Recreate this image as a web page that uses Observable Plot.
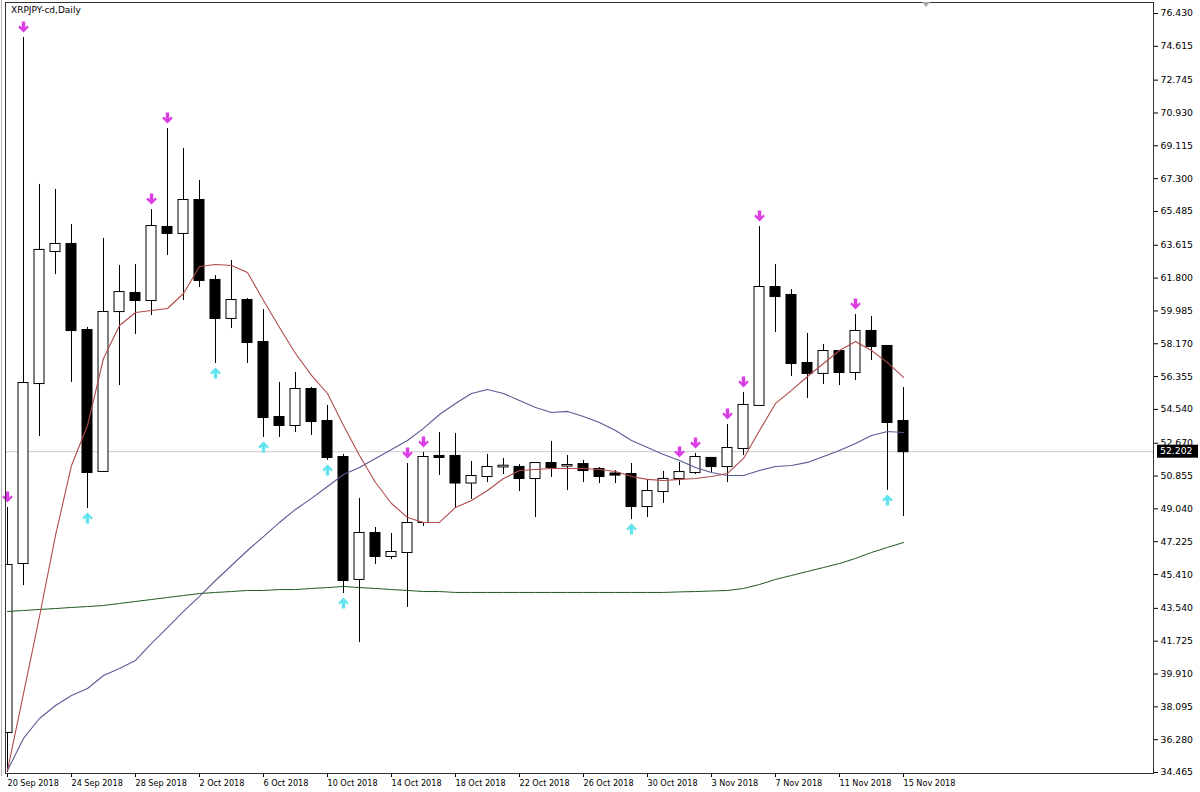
<!DOCTYPE html>
<html>
<head>
<meta charset="utf-8">
<script src="https://cdn.jsdelivr.net/npm/d3@7"></script>
<script src="https://cdn.jsdelivr.net/npm/@observablehq/plot@0.6"></script>
<style>
  html, body { margin: 0; padding: 0; background: #fff; width: 1200px; height: 792px; overflow: hidden; }
  #wrap { position: relative; width: 1200px; height: 792px; }
  #chart svg { position: absolute; left: 0; top: 0; }
  #title { position: absolute; left: 11px; top: 5px; font-family: "DejaVu Sans"; font-size: 9px; color: #000; white-space: nowrap; }
  #shift { position: absolute; left: 922px; top: 2px; width: 0; height: 0;
           border-left: 4px solid transparent; border-right: 4px solid transparent; border-top: 5px solid #a8a8a8; }
  #edge { position: absolute; left: 1px; top: 0; width: 1px; height: 776px; background: #b8b8b8; }
  g[aria-label="x-axis tick label"] text, g[aria-label="x-axis"] text {
    text-anchor: start; font-family: "DejaVu Sans Condensed", "DejaVu Sans"; font-size: 9px;
  }
</style>
</head>
<body>
<div id="wrap">
  <div id="chart"></div>
  <div id="edge"></div>
  <div id="title">XRPJPY-cd,Daily</div>
  <div id="shift"></div>
</div>
<script>
// ---- Data (daily candles, 20 Sep 2018 .. 15 Nov 2018) ----
const open = [36.68,46.02,55.97,63.27,63.66,58.90,51.11,59.95,60.95,60.56,64.60,64.27,66.09,61.67,59.57,60.56,58.24,54.09,53.65,55.64,53.87,51.88,45.14,47.68,46.41,46.63,48.29,51.94,51.94,50.47,50.83,51.36,51.33,50.72,51.55,51.41,51.49,51.22,50.97,50.94,49.17,50.00,50.72,51.05,51.83,51.38,52.38,54.76,61.28,60.84,57.08,56.53,57.74,56.58,58.85,58.02,53.87];
const high = [49.12,75.10,66.98,66.70,64.76,59.07,63.99,62.50,62.55,65.59,70.07,68.97,67.20,61.94,62.77,60.67,60.06,56.03,56.58,55.75,54.76,52.05,49.62,48.01,47.68,51.55,52.16,53.26,53.21,51.66,52.05,51.83,51.49,51.55,52.77,51.99,51.72,51.33,51.16,51.55,50.67,51.11,51.61,52.10,51.88,53.71,55.48,64.65,62.55,61.17,58.74,58.13,57.80,59.79,59.68,58.07,55.75];
const low = [34.47,44.80,53.04,62.00,56.03,49.06,51.05,55.86,58.68,59.73,63.05,60.56,61.28,57.08,59.01,57.08,52.99,52.99,53.26,53.10,51.72,44.36,41.65,45.97,46.24,43.59,48.07,50.89,49.06,49.56,50.50,50.94,50.00,48.56,50.78,50.06,50.50,50.44,50.44,48.45,48.56,49.34,50.33,50.94,51.05,50.50,51.99,54.76,58.79,56.36,55.14,55.92,55.86,56.14,57.24,50.06,48.62];
const close = [45.91,55.97,63.33,63.66,58.90,51.05,59.90,61.00,60.56,64.65,64.27,66.09,61.67,59.57,60.56,58.24,54.09,53.65,55.64,53.87,51.88,45.08,47.68,46.41,46.63,48.23,51.88,51.88,50.47,50.83,51.33,51.40,50.72,51.55,51.33,51.44,51.16,50.83,50.91,49.17,50.00,50.67,51.05,51.88,51.38,52.38,54.76,61.28,60.78,57.08,56.53,57.74,56.58,58.85,58.02,53.82,52.202];

// moving averages (fast red, medium blue, slow green)
const maFast = [34.58,38.83,43.09,47.57,51.44,53.65,57.36,59.18,59.90,60.01,60.12,60.95,62.44,62.55,62.50,62.11,60.56,59.07,57.63,56.42,55.42,53.65,51.99,50.50,49.34,48.56,48.29,48.29,49.12,49.50,50.06,50.72,51.16,51.22,51.27,51.27,51.27,51.22,51.11,50.83,50.67,50.61,50.67,50.72,50.83,51.00,51.83,53.37,54.87,55.59,56.36,57.08,57.80,58.30,57.80,57.13,56.31];
const maMid = [34.58,36.35,37.45,38.17,38.72,39.11,39.83,40.22,40.66,41.60,42.48,43.37,44.20,45.08,45.91,46.74,47.51,48.29,49.01,49.62,50.28,50.94,51.33,51.83,52.32,52.82,53.49,54.26,54.87,55.42,55.64,55.42,55.03,54.65,54.37,54.43,54.15,53.82,53.37,52.82,52.43,52.05,51.72,51.33,51.05,50.89,50.89,51.16,51.38,51.44,51.61,51.94,52.27,52.66,53.10,53.32,53.26];
const maSlow = [43.37,43.42,43.48,43.53,43.59,43.64,43.70,43.81,43.92,44.03,44.14,44.25,44.36,44.42,44.47,44.53,44.53,44.58,44.58,44.64,44.69,44.75,44.69,44.64,44.58,44.53,44.47,44.47,44.42,44.42,44.42,44.42,44.42,44.42,44.42,44.42,44.42,44.42,44.42,44.42,44.42,44.42,44.45,44.47,44.50,44.53,44.64,44.86,45.14,45.36,45.58,45.80,46.02,46.30,46.63,46.91,47.18];

// signal arrows (candle indices)
const sellSignals = [0,1,9,10,25,26,42,43,45,46,47,53];
const buySignals = [5,13,16,20,21,39,55];

// price axis tick labels
const yTicks = [76.430,74.615,72.745,70.930,69.115,67.300,65.485,63.615,61.800,59.985,58.170,56.355,54.540,52.670,50.855,49.040,47.225,45.410,43.540,41.725,39.910,38.095,36.280,34.465];

// date labels (one per daily candle)
const dateLabels = d3.utcDay.range(new Date(Date.UTC(2018, 8, 20)), new Date(Date.UTC(2018, 10, 16))).map(d3.utcFormat("%-d %b %Y"));

// ---- Build ----
const N = close.length;
const candles = d3.range(N).map(i => ({i, open: open[i], high: high[i], low: low[i], close: close[i], up: close[i] >= open[i]}));
const lastClose = close[N - 1];
const step = (yTicks[0] - yTicks[yTicks.length - 1]) / 759; // price per pixel
const yDomain = [yTicks[yTicks.length - 1] - 1 * step, yTicks[0] + 11 * step];
const xTicks = d3.range(0, N, 4);

const arrowDown = { draw(ctx) {
  ctx.moveTo(-1.7, -6); ctx.lineTo(1.7, -6); ctx.lineTo(1.7, 0); ctx.lineTo(3.7, -2);
  ctx.lineTo(5.3, -0.4); ctx.lineTo(0, 5); ctx.lineTo(-5.3, -0.4); ctx.lineTo(-3.7, -2);
  ctx.lineTo(-1.7, 0); ctx.closePath();
}};
const arrowUp = { draw(ctx) {
  ctx.moveTo(-1.7, 6); ctx.lineTo(1.7, 6); ctx.lineTo(1.7, 0); ctx.lineTo(3.7, 2);
  ctx.lineTo(5.3, 0.4); ctx.lineTo(0, -5); ctx.lineTo(-5.3, 0.4); ctx.lineTo(-3.7, 2);
  ctx.lineTo(-1.7, 0); ctx.closePath();
}};

const maData = d3.range(N).map(i => ({i, fast: maFast[i], mid: maMid[i], slow: maSlow[i]}));
const bodyHalf = 0.3125;

const chart = Plot.plot({
  width: 1200,
  height: 792,
  marginLeft: 5,
  marginRight: 47,
  marginTop: 2,
  marginBottom: 19,
  style: { fontFamily: "DejaVu Sans", fontSize: "9.3px", color: "#000", background: "#fff", overflow: "visible" },
  x: { type: "linear", domain: [-0.125, 71.625], ticks: xTicks, tickFormat: i => dateLabels[i], tickSize: 4, tickPadding: 2, label: null },
  y: { domain: yDomain, ticks: yTicks, tickFormat: d => d.toFixed(3), tickSize: 4, tickPadding: 3, axis: "right", label: null },
  marks: [
    Plot.ruleY([lastClose], { stroke: "#c8c8c8" }),
    Plot.ruleX(candles, { x: "i", y1: "low", y2: "high", stroke: "#000", clip: true }),
    Plot.rect(candles.filter(d => d.up), { x1: d => d.i - bodyHalf, x2: d => d.i + bodyHalf, y1: "open", y2: "close", fill: "#fff", stroke: "#000", insetTop: -0.5, insetBottom: -0.5, clip: true }),
    Plot.rect(candles.filter(d => !d.up), { x1: d => d.i - bodyHalf, x2: d => d.i + bodyHalf, y1: "open", y2: "close", fill: "#000", stroke: "#000", insetTop: -0.5, insetBottom: -0.5, clip: true }),
    Plot.line(maData, { x: "i", y: "slow", stroke: "#1f5a1f", strokeWidth: 1 }),
    Plot.line(maData, { x: "i", y: "mid", stroke: "#5a5a96", strokeWidth: 1.1 }),
    Plot.line(maData, { x: "i", y: "fast", stroke: "#b04a4a", strokeWidth: 1.1 }),
    Plot.dot(candles.filter(d => sellSignals.includes(d.i)), { x: "i", y: "high", dy: -10, symbol: arrowDown, fill: "#dc3ce6", stroke: "none" }),
    Plot.dot(candles.filter(d => buySignals.includes(d.i)), { x: "i", y: "low", dy: 9, symbol: arrowUp, fill: "#5fe3ee", stroke: "none" }),
    Plot.frame({ stroke: "#333" })
  ]
});

document.getElementById("chart").appendChild(chart);

// current price label on the price axis
const svg = d3.select(chart.tagName.toLowerCase() === "svg" ? chart : chart.querySelector("svg"));
const py = chart.scale("y").apply(lastClose);
svg.append("rect").attr("x", 1157).attr("y", py - 6.5).attr("width", 41).attr("height", 13).attr("fill", "#000");
svg.append("text").attr("x", 1160).attr("y", py).attr("dy", "0.35em").attr("fill", "#fff")
  .attr("text-anchor", "start")
  .style("font-family", "DejaVu Sans").style("font-size", "9.3px").text(lastClose.toFixed(3));
</script>
</body>
</html>
